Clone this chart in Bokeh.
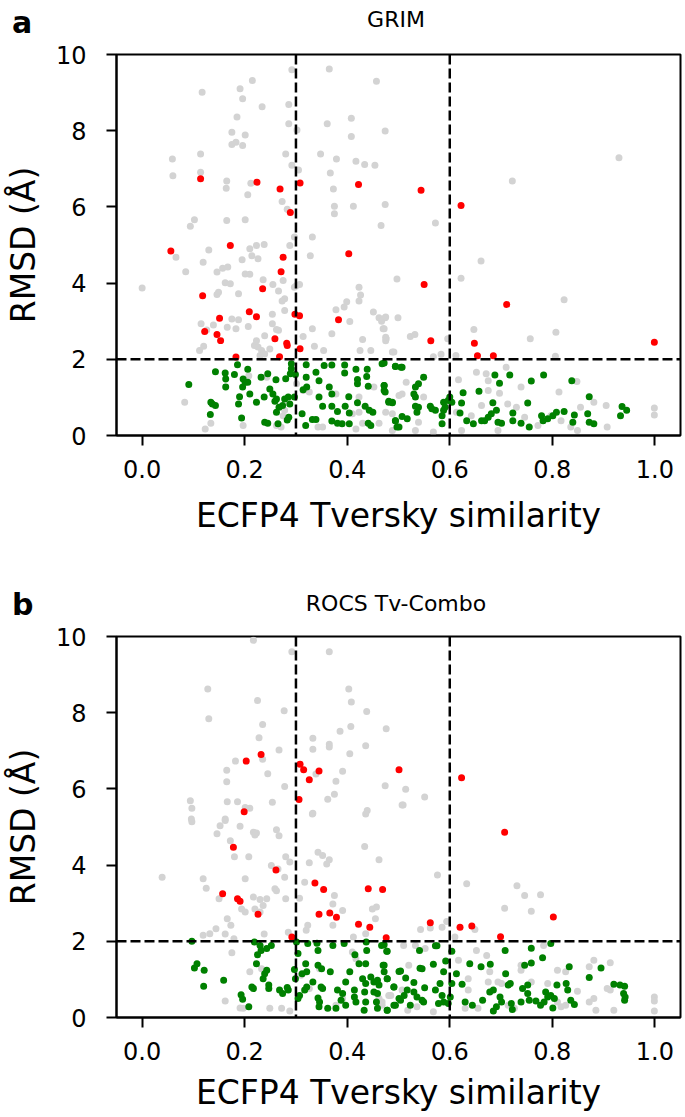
from bokeh.plotting import figure
from bokeh.models import Range1d, FixedTicker, Span, CustomJSTickFormatter, Div
from bokeh.layouts import column
from bokeh.embed import file_html
from bokeh.resources import INLINE

x_ticks = [0.0, 0.2, 0.4, 0.6, 0.8, 1.0]
x_tick_labels = ["0.0", "0.2", "0.4", "0.6", "0.8", "1.0"]
y_ticks = [0, 2, 4, 6, 8, 10]
y_tick_labels = ["0", "2", "4", "6", "8", "10"]
x_cut_lines = [0.3, 0.6]
y_cut_line = 2.0
x_label = "ECFP4 Tversky similarity"
y_label = "RMSD (Å)"

grim_title = "GRIM"
rocs_title = "ROCS Tv-Combo"

grim_red = [(0.114,6.74),(0.224,6.65),(0.269,6.47),(0.308,6.63),(0.422,6.59),(0.289,5.85),(0.544,6.44),(0.622,6.04),
 (0.056,4.84),(0.172,4.99),(0.275,4.68),(0.271,4.30),(0.118,3.67),(0.235,3.85),(0.403,4.77),(0.209,3.25),(0.223,3.12),
 (0.151,3.08),(0.298,3.18),(0.307,3.14),(0.383,3.04),(0.122,2.73),(0.146,2.65),(0.153,2.49),(0.259,2.54),(0.282,2.42),
 (0.283,2.36),(0.308,2.28),(0.183,2.06),(0.268,2.07),(0.550,3.96),(0.711,3.44),(0.563,2.49),(0.648,2.42),(0.654,2.09),
 (0.685,2.09),(0.999,2.45)]

grim_green = [(0.091,1.34),(0.186,1.86),(0.206,1.74),(0.143,1.67),(0.162,1.64),(0.180,1.60),(0.163,1.48),(0.197,1.48),
 (0.201,1.40),(0.206,1.40),(0.163,1.27),(0.196,1.27),(0.232,1.53),(0.245,1.62),(0.261,1.46),(0.280,1.49),(0.291,1.88),
 (0.291,1.75),(0.289,1.62),(0.299,1.60),(0.320,1.86),(0.320,1.53),(0.339,1.66),(0.355,1.84),(0.370,1.85),(0.395,1.85),
 (0.417,1.74),(0.439,1.74),(0.438,1.55),(0.468,1.88),(0.494,1.82),(0.505,1.79),(0.345,1.44),(0.365,1.27),(0.370,1.09),
 (0.395,1.64),(0.420,1.47),(0.420,1.36),(0.441,1.29),(0.472,1.31),(0.474,1.14),(0.210,1.09),(0.190,1.02),(0.188,0.83),
 (0.223,0.87),(0.238,1.01),(0.249,1.22),(0.255,1.09),(0.262,0.96),(0.259,0.90),(0.274,0.79),(0.278,0.96),(0.267,0.74),
 (0.262,0.61),(0.285,1.01),(0.288,0.83),(0.297,1.01),(0.314,1.20),(0.321,1.27),(0.345,1.01),(0.352,0.77),(0.370,0.77),
 (0.381,0.63),(0.403,1.02),(0.404,0.59),(0.396,0.77),(0.420,0.86),(0.435,0.77),(0.443,0.66),(0.450,0.61),(0.481,0.90),
 (0.488,0.86),(0.494,0.39),(0.501,0.22),(0.441,0.32),(0.446,0.26),(0.404,0.31),(0.390,0.31),(0.370,0.38),(0.381,0.32),
 (0.339,0.42),(0.332,0.42),(0.319,0.26),(0.312,0.57),(0.283,0.41),(0.265,0.31),(0.245,0.32),(0.239,0.35),(0.194,0.46),
 (0.133,0.55),(0.134,0.87),(0.137,0.83),(0.143,0.79),(0.286,0.48),
 (0.472,1.90),(0.494,1.81),(0.507,1.79),(0.549,1.53),(0.539,1.36),(0.533,1.27),(0.530,1.09),(0.533,1.01),(0.472,1.31),
 (0.472,1.18),(0.481,0.87),(0.488,0.87),(0.533,0.77),(0.539,0.74),(0.536,0.61),(0.562,0.77),(0.572,0.66),(0.588,0.87),
 (0.591,0.74),(0.597,0.92),(0.604,0.87),(0.585,0.52),(0.585,0.31),(0.588,0.66),(0.626,1.12),(0.623,0.85),(0.620,0.59),
 (0.633,0.39),(0.646,0.31),(0.657,1.16),(0.688,1.59),(0.697,1.37),(0.717,1.59),(0.684,0.86),(0.681,0.57),(0.675,0.48),
 (0.668,0.39),(0.662,0.39),(0.691,0.66),(0.694,0.35),(0.701,0.32),(0.723,0.59),(0.723,0.39),(0.739,0.32),(0.755,0.22),
 (0.752,0.85),(0.759,1.43),(0.783,1.59),(0.779,0.52),(0.782,0.39),(0.791,0.44),(0.801,0.52),(0.808,0.61),(0.823,0.63),
 (0.838,1.44),(0.843,0.54),(0.840,0.35),(0.869,0.57),(0.872,1.02),(0.872,0.35),(0.881,0.31),(0.933,0.52),(0.936,0.76),
 (0.945,0.66),(0.494,0.39),(0.497,0.22),(0.507,0.50),(0.517,0.44),(0.565,0.70),(0.600,1.01)]

grim_gray = [(0.292,9.60),(0.365,9.62),(0.215,9.32),(0.457,9.30),(0.117,9.01),(0.191,9.10),(0.196,8.84),(0.234,8.63),
 (0.286,8.69),(0.185,8.36),(0.286,8.18),(0.302,8.02),(0.361,8.18),(0.408,8.33),(0.474,7.99),(0.408,7.85),(0.175,7.96),
 (0.201,7.89),(0.175,7.64),(0.183,7.70),(0.196,7.61),(0.114,7.39),(0.059,7.26),(0.280,7.39),(0.348,7.39),(0.379,7.26),
 (0.417,7.20),(0.434,7.11),(0.454,7.09),(0.292,7.09),(0.305,6.97),(0.060,6.82),(0.114,6.91),(0.367,6.89),(0.165,6.68),
 (0.164,6.49),(0.212,6.62),(0.206,6.32),(0.373,6.47),(0.375,6.02),(0.375,5.82),(0.412,6.02),(0.474,6.06),(0.273,6.14),
 (0.283,5.94),(0.102,5.66),(0.094,5.49),(0.165,5.64),(0.201,5.66),(0.466,5.51),(0.332,5.21),
 (0.722,6.68),(0.930,7.29),(0.572,5.58),
 (0.130,4.87),(0.066,4.68),(0.085,4.30),(0.000,3.87),(0.119,4.55),(0.146,4.29),(0.157,4.39),(0.167,4.42),(0.195,4.61),
 (0.210,4.90),(0.223,4.99),(0.238,5.01),(0.214,4.72),(0.226,4.64),(0.201,4.24),(0.210,4.23),(0.162,4.01),(0.172,3.98),
 (0.149,3.76),(0.146,3.70),(0.188,3.72),(0.236,4.09),(0.255,3.96),(0.266,3.79),(0.275,4.07),(0.278,3.59),(0.273,3.53),
 (0.278,3.28),(0.288,4.99),(0.297,3.89),(0.307,3.96),(0.328,4.72),(0.254,3.18),(0.175,3.06),(0.188,3.04),(0.166,2.84),
 (0.183,2.80),(0.207,2.86),(0.115,2.93),(0.139,2.90),(0.126,2.77),(0.112,2.23),(0.120,2.34),(0.239,2.62),(0.262,2.78),
 (0.266,2.76),(0.254,2.93),(0.219,2.36),(0.226,2.32),(0.233,2.23),(0.239,2.14),(0.230,2.10),(0.223,2.49),(0.249,2.27),
 (0.332,2.80),(0.336,2.34),(0.354,2.23),(0.370,2.67),(0.378,3.30),(0.394,3.37),(0.399,3.51),(0.423,3.89),(0.426,3.69),
 (0.423,3.53),(0.405,2.99),(0.430,2.52),(0.425,2.23),(0.446,2.23),(0.451,3.24),(0.462,3.09),(0.474,3.09),(0.467,3.00),
 (0.470,2.80),(0.476,2.54),(0.475,2.49),(0.497,4.11),(0.499,3.09),(0.491,2.19),(0.297,5.21),(0.301,3.94),(0.314,2.60),
 (0.083,0.87),(0.123,0.17),(0.134,0.32),(0.197,0.26),(0.208,1.57),(0.243,1.53),(0.314,1.18),(0.262,0.26),(0.271,0.22),
 (0.278,0.66),(0.378,1.09),(0.410,0.57),(0.423,0.61),(0.430,0.32),(0.462,0.32),(0.475,0.61),(0.423,1.01),(0.452,1.27),
 (0.343,0.22),(0.352,0.22),(0.417,0.17),(0.488,0.57),(0.501,1.05),(0.301,1.36),(0.326,1.14),(0.275,0.52),
 (0.661,4.58),(0.622,4.13),(0.823,3.56),(0.475,3.11),(0.472,2.80),(0.475,2.58),(0.523,2.60),(0.532,2.65),(0.488,2.19),
 (0.568,2.07),(0.583,2.13),(0.596,2.54),(0.612,2.10),(0.647,2.78),(0.757,2.54),(0.807,2.71),(0.806,2.08),(0.710,1.79),
 (0.652,1.66),(0.671,1.62),(0.675,1.44),(0.617,1.46),(0.739,1.27),(0.813,1.14),(0.848,1.42),(0.515,1.40),(0.549,1.01),
 (0.613,0.61),(0.642,0.52),(0.662,0.79),(0.675,1.18),(0.697,1.11),(0.713,0.83),(0.730,0.74),(0.746,0.48),(0.772,0.26),
 (0.797,0.52),(0.817,0.39),(0.836,0.22),(0.849,0.13),(0.905,0.79),(0.907,0.22),(0.999,0.72),(0.999,0.54),(0.568,0.09),
 (0.533,0.13),(0.488,0.13),(0.507,1.09),(0.539,0.35),(0.623,0.13),(0.694,0.13),(0.881,0.87),(0.855,0.74)]

rocs_red = [(0.203,6.73),(0.232,6.90),(0.308,6.65),(0.315,6.50),(0.345,6.47),(0.326,6.24),(0.501,6.50),(0.306,5.72),
 (0.623,6.29),(0.199,5.40),(0.178,4.47),(0.707,4.86),(0.261,3.87),(0.157,3.25),(0.186,3.12),(0.191,3.05),(0.226,2.71),
 (0.337,3.53),(0.354,3.36),(0.345,2.71),(0.366,2.74),(0.379,2.63),(0.441,3.38),(0.469,3.36),(0.422,2.45),(0.444,2.37),
 (0.476,2.09),(0.292,2.11),(0.802,2.64),(0.562,2.49),(0.620,2.37),(0.643,2.40),(0.699,2.12)]

rocs_green = [(0.097,2.00),(0.102,1.30),(0.107,1.41),(0.121,1.24),(0.120,0.82),(0.159,0.98),(0.193,0.60),(0.196,0.48),
 (0.208,0.28),(0.214,0.80),(0.217,0.76),(0.219,1.98),(0.225,1.65),(0.232,1.76),(0.243,1.81),(0.252,1.89),(0.230,1.89),
 (0.223,1.41),(0.236,1.02),(0.239,1.15),(0.243,1.24),(0.247,0.76),(0.247,0.85),(0.268,0.72),(0.274,0.63),(0.285,0.72),
 (0.283,0.79),(0.297,1.26),(0.299,1.02),(0.304,0.50),(0.307,0.58),(0.301,1.98),(0.304,1.68),(0.323,1.94),(0.341,1.95),
 (0.343,1.76),(0.372,1.89),(0.319,1.41),(0.321,1.20),(0.312,1.15),(0.343,1.37),(0.350,1.28),(0.367,1.20),(0.333,0.93),
 (0.321,0.80),(0.317,0.72),(0.349,0.80),(0.352,0.76),(0.343,0.51),(0.346,0.41),(0.345,0.28),(0.362,0.24),(0.381,0.72),
 (0.391,0.63),(0.388,0.45),(0.378,0.24),(0.397,0.32),(0.405,1.20),(0.397,0.93),(0.414,0.72),(0.414,0.54),(0.417,0.41),
 (0.415,1.65),(0.423,1.41),(0.436,1.41),(0.437,1.98),(0.438,1.76),(0.430,1.02),(0.436,0.89),(0.434,0.67),(0.433,0.19),
 (0.436,0.41),(0.446,1.06),(0.452,0.93),(0.459,0.98),(0.462,0.85),(0.452,0.67),(0.459,0.63),(0.457,0.41),(0.459,0.24),
 (0.478,0.19),(0.494,0.32),(0.504,0.45),(0.467,1.89),(0.477,1.74),(0.470,1.37),(0.478,1.02),(0.491,0.80),(0.501,1.21),
 (0.394,1.94),
 (0.472,1.91),(0.478,1.74),(0.472,1.37),(0.478,1.02),(0.472,1.20),(0.504,1.22),(0.514,1.04),(0.530,0.92),(0.491,0.80),
 (0.517,0.72),(0.511,0.58),(0.530,0.67),(0.536,0.54),(0.546,0.45),(0.549,0.41),(0.478,0.19),(0.491,0.32),(0.501,0.50),
 (0.523,0.32),(0.541,1.76),(0.546,1.28),(0.568,1.40),(0.575,1.88),(0.551,0.78),(0.572,0.72),(0.581,0.89),(0.588,1.20),
 (0.592,1.48),(0.585,0.58),(0.588,0.41),(0.578,0.37),(0.601,0.54),(0.597,0.37),(0.604,0.89),(0.604,1.74),(0.613,1.15),
 (0.624,0.87),(0.630,0.41),(0.644,0.32),(0.639,1.41),(0.661,1.33),(0.679,1.40),(0.664,0.45),(0.678,0.67),(0.685,0.72),
 (0.698,0.54),(0.701,0.41),(0.691,0.28),(0.685,0.17),(0.708,1.76),(0.709,1.15),(0.714,0.85),(0.718,0.89),(0.720,0.37),
 (0.722,0.21),(0.739,0.41),(0.742,0.76),(0.752,0.85),(0.752,0.63),(0.746,1.37),(0.759,1.43),(0.759,1.82),(0.781,1.57),
 (0.755,0.45),(0.768,0.43),(0.777,0.32),(0.784,0.41),(0.787,0.67),(0.791,0.54),(0.797,0.58),(0.801,0.25),(0.804,0.50),
 (0.809,0.85),(0.827,0.89),(0.830,0.72),(0.836,0.45),(0.843,0.34),(0.797,1.94),(0.833,1.33),(0.872,1.05),(0.895,1.30),
 (0.920,0.87),(0.932,0.85),(0.941,0.82),(0.939,0.63),(0.941,0.45),(0.942,0.54),(0.572,1.88),(0.542,1.29)]

rocs_gray = [(0.217,9.90),(0.292,9.60),(0.365,9.60),(0.128,8.62),(0.403,8.62),(0.225,8.32),(0.408,8.28),(0.277,8.05),
 (0.438,8.03),(0.130,7.84),(0.235,7.69),(0.407,7.64),(0.386,7.51),(0.476,7.58),(0.228,7.34),(0.333,7.33),(0.365,7.17),
 (0.365,7.10),(0.436,7.13),(0.267,7.02),(0.333,7.04),(0.405,6.92),(0.182,6.73),(0.235,6.78),(0.165,6.49),(0.245,6.40),
 (0.391,6.46),(0.339,6.39),(0.378,6.20),(0.165,6.19),(0.278,6.06),(0.474,6.08),(0.375,5.86),(0.362,5.73),(0.094,5.69),
 (0.097,5.49),(0.166,5.66),(0.186,5.66),(0.210,5.49),(0.201,5.51),(0.254,5.65),(0.333,5.36),(0.439,5.43),(0.436,5.34),
 (0.507,5.58),(0.162,5.21),(0.096,5.21),(0.514,5.99),(0.551,5.79),(0.509,5.58),
 (0.097,5.14),(0.039,3.68),(0.119,3.64),(0.125,3.39),(0.146,4.82),(0.152,5.03),(0.162,5.17),(0.191,5.02),(0.217,4.86),
 (0.223,4.84),(0.220,4.79),(0.172,4.64),(0.180,4.22),(0.208,4.22),(0.201,3.64),(0.150,3.12),(0.194,2.85),(0.201,2.77),
 (0.217,3.16),(0.230,3.10),(0.243,3.12),(0.236,2.94),(0.220,2.85),(0.230,2.77),(0.166,2.59),(0.173,2.42),(0.144,2.33),
 (0.132,2.20),(0.119,2.16),(0.162,2.19),(0.179,2.07),(0.238,2.19),(0.252,3.99),(0.265,3.90),(0.278,3.68),(0.280,4.22),
 (0.288,4.08),(0.262,4.93),(0.267,4.77),(0.259,3.38),(0.262,3.33),(0.280,3.12),(0.307,3.13),(0.285,2.24),(0.317,3.55),
 (0.326,4.06),(0.332,5.34),(0.343,4.34),(0.352,4.25),(0.365,4.14),(0.360,4.03),(0.375,3.20),(0.372,2.98),(0.391,2.81),
 (0.323,2.42),(0.320,2.29),(0.372,2.42),(0.434,4.49),(0.462,4.14),(0.449,2.85),(0.457,2.90),(0.455,2.59),(0.412,2.11),
 (0.436,2.20),(0.175,1.70),(0.210,1.20),(0.162,0.43),(0.191,0.25),(0.197,0.24),(0.249,0.24),(0.272,0.24),(0.288,0.17),
 (0.233,1.28),(0.310,1.11),(0.346,1.28),(0.378,0.32),(0.391,0.50),(0.410,1.72),(0.417,1.54),(0.462,0.50),(0.468,0.32),
 (0.481,0.58),(0.326,0.76),
 (0.576,3.74),(0.633,3.51),(0.731,3.46),(0.746,3.20),(0.777,3.22),(0.707,2.87),(0.759,2.79),(0.543,2.31),(0.562,2.35),
 (0.585,2.37),(0.594,2.52),(0.610,2.11),(0.649,2.31),(0.510,1.89),(0.617,1.50),(0.652,1.76),(0.672,1.63),(0.678,1.20),
 (0.739,1.24),(0.739,1.37),(0.810,1.24),(0.826,1.20),(0.783,1.89),(0.881,1.50),(0.872,1.33),(0.913,1.44),(0.907,0.76),
 (0.913,0.72),(0.881,0.50),(0.872,0.41),(0.885,0.19),(0.849,0.69),(0.920,0.19),(0.999,0.54),(0.999,0.43),(0.999,0.17),
 (0.568,0.15),(0.518,0.19),(0.536,0.28),(0.636,0.72),(0.694,0.93),(0.701,0.89),(0.759,0.93),(0.791,0.89),(0.636,1.02),
 (0.675,0.93),(0.810,0.41),(0.817,0.28),(0.826,0.32),(0.726,0.24),(0.714,0.32),(0.655,0.24),(0.630,0.24),(0.507,0.72),
 (0.485,0.58),(0.468,0.41),(0.533,1.89),(0.552,1.81),(0.520,1.37)]

FONT = "DejaVu Sans"
GRAY = "#d3d3d3"
RED = "#ff0000"
GREEN = "#008000"
W = 685


def fmt(tick_values, tick_texts):
    return CustomJSTickFormatter(args=dict(tvals=tick_values, ttexts=tick_texts), code="""
        const i = tvals.findIndex(t => Math.abs(t - tick) < 1e-9);
        return i >= 0 ? ttexts[i] : '';""")


def header(height, title, letter, title_top, letter_top):
    html = (
        f'<div style="position:relative;width:{W}px;height:{height}px;margin:0;padding:0;'
        f'font-family:\'DejaVu Sans\';color:#000;background:#fff;overflow:visible">'
        f'<span style="position:absolute;left:12px;top:{letter_top}px;font-size:30px;'
        f'font-weight:bold;line-height:1;white-space:nowrap">{letter}</span>'
        f'<span style="position:absolute;left:112px;width:568px;top:{title_top}px;font-size:22px;'
        f'line-height:1;text-align:center;white-space:nowrap">{title}</span>'
        f'</div>'
    )
    return Div(text=html, width=W, height=height, styles={"margin": "0", "padding": "0"})


def panel(gray, red, green, height, b_bottom, xl_standoff):
    p = figure(width=W, height=height, x_range=Range1d(-0.05, 1.05), y_range=Range1d(0, 10),
               output_backend="svg", toolbar_location=None,
               min_border_left=112, min_border_right=5, min_border_top=14, min_border_bottom=b_bottom)
    p.xgrid.visible = False
    p.ygrid.visible = False
    p.background_fill_color = "white"
    p.border_fill_color = "white"
    p.outline_line_color = "black"
    p.outline_line_width = 2
    p.outline_line_alpha = 1.0

    for ax in (p.xaxis[0], p.yaxis[0]):
        ax.axis_line_width = 2
        ax.axis_line_color = "black"
        ax.major_tick_line_width = 2
        ax.major_tick_line_color = "black"
        ax.major_tick_out = 10
        ax.major_tick_in = 0
        ax.minor_tick_line_color = None
        ax.major_label_text_font = FONT
        ax.major_label_text_font_size = "24px"
        ax.major_label_text_color = "black"
        ax.axis_label_text_font = FONT
        ax.axis_label_text_font_size = "33px"
        ax.axis_label_text_font_style = "normal"
        ax.axis_label_text_color = "black"

    p.xaxis.ticker = FixedTicker(ticks=x_ticks)
    p.xaxis.formatter = fmt(x_ticks, x_tick_labels)
    p.yaxis.ticker = FixedTicker(ticks=y_ticks)
    p.yaxis.formatter = fmt(y_ticks, y_tick_labels)
    p.xaxis.axis_label = x_label
    p.yaxis.axis_label = y_label
    p.xaxis.major_label_standoff = 14
    p.xaxis.axis_label_standoff = xl_standoff
    p.yaxis.major_label_standoff = 20
    p.yaxis.axis_label_standoff = 10

    for pts, col in ((gray, GRAY), (red, RED), (green, GREEN)):
        xs = [a for a, b in pts]
        ys = [b for a, b in pts]
        p.scatter(xs, ys, size=7, fill_color=col, line_color=None)

    for xc in x_cut_lines:
        p.add_layout(Span(location=xc, dimension="height", line_color="black",
                          line_width=2.5, line_dash="10 4"))
    p.add_layout(Span(location=y_cut_line, dimension="width", line_color="black",
                      line_width=2.5, line_dash="10 4"))
    return p


ha = header(40, grim_title, "a", 9, 8)
pa = panel(grim_gray, grim_red, grim_green, 542, 147, 15)
hb = header(40, rocs_title, "b", 11, 8)
pb = panel(rocs_gray, rocs_red, rocs_green, 494, 99, 10)

layout = column(ha, pa, hb, pb, spacing=0)
open("out.html", "w").write(file_html(layout, INLINE))
